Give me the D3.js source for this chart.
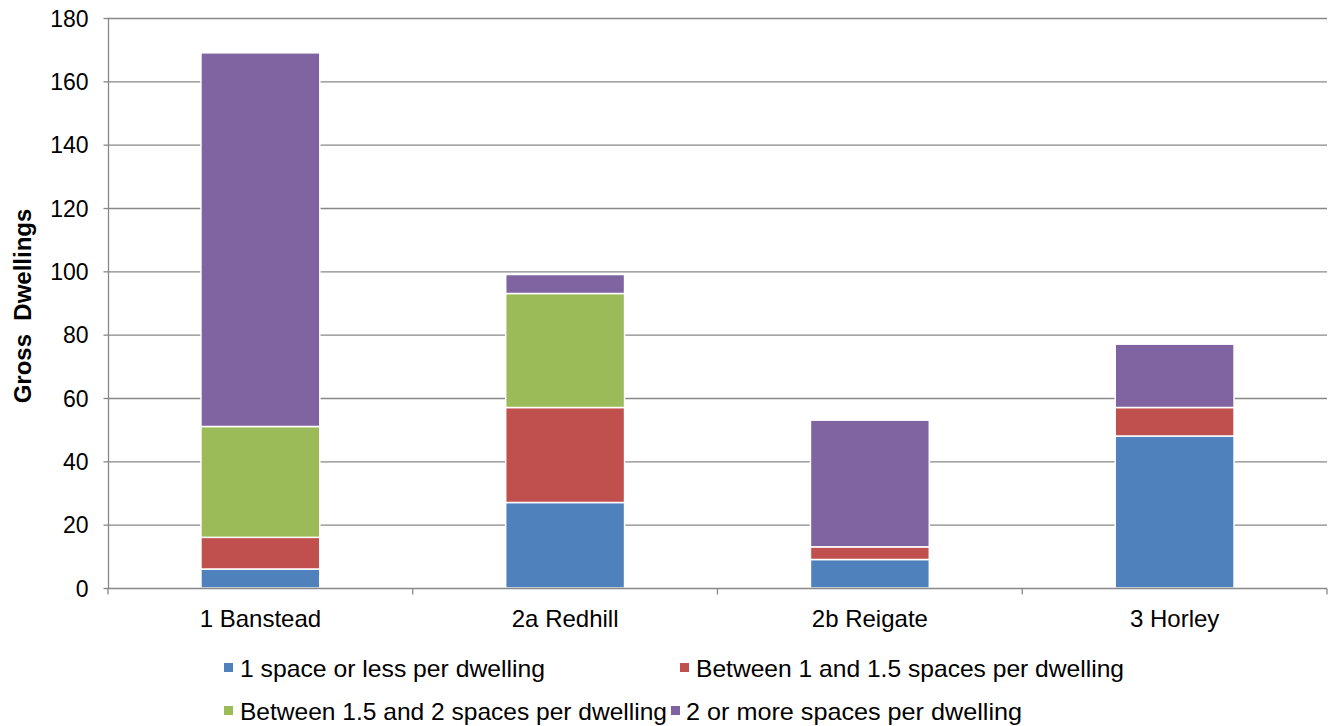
<!DOCTYPE html>
<html>
<head>
<meta charset="utf-8">
<script src="https://cdn.jsdelivr.net/npm/d3@7"></script>
<style>
  html, body { margin: 0; padding: 0; background: #fff; }
  svg { display: block; font-family: "Liberation Sans", Arial, sans-serif; }
</style>
</head>
<body>
<svg id="chart" width="1328" height="726"></svg>
<script>
// Gross dwellings by parking provision, per area
const categories = ["1 Banstead", "2a Redhill", "2b Reigate", "3 Horley"];
const seriesNames = [
  "1 space or less per dwelling",
  "Between 1 and 1.5 spaces per dwelling",
  "Between 1.5 and 2 spaces per dwelling",
  "2 or more spaces per dwelling"
];
const upToOne      = [6, 27, 9, 48];
const oneToOneHalf = [10, 30, 4, 9];
const oneHalfToTwo = [35, 36, 0, 0];
const twoOrMore    = [118, 6, 40, 20];
const yTicks = [0, 20, 40, 60, 80, 100, 120, 140, 160, 180];
const colors = ["#4F81BD", "#C0504D", "#9BBB59", "#8064A2"];

const seriesValues = [upToOne, oneToOneHalf, oneHalfToTwo, twoOrMore];
const keys = ["s0", "s1", "s2", "s3"];
const rows = categories.map((c, i) => {
  const r = { category: c };
  keys.forEach((k, j) => r[k] = seriesValues[j][i]);
  return r;
});

const svg = d3.select("#chart");
const margin = { left: 108, right: 1, top: 18, bottom: 138 };
const W = 1328, H = 726;
const plotW = W - margin.left - margin.right;
const plotH = H - margin.top - margin.bottom;

const x = d3.scaleBand().domain(categories).range([margin.left, margin.left + plotW])
  .paddingInner(0.61).paddingOuter(0.305);
const xOuter = d3.scaleBand().domain(categories).range([margin.left, margin.left + plotW]);
const y = d3.scaleLinear().domain([0, 180]).range([margin.top + plotH, margin.top]);

const gridColor = "#888";

// horizontal gridlines
svg.append("g").selectAll("line").data(yTicks.filter(t => t > 0)).join("line")
  .attr("x1", margin.left).attr("x2", margin.left + plotW)
  .attr("y1", d => y(d) + 0.5).attr("y2", d => y(d) + 0.5)
  .attr("stroke", gridColor).attr("stroke-width", 1.3);

// stacked bars
const stack = d3.stack().keys(keys)(rows);
svg.append("g").selectAll("g").data(stack).join("g")
  .attr("fill", (d, i) => colors[i])
  .selectAll("rect").data(d => d.filter(p => p[1] - p[0] > 0)).join("rect")
  .attr("x", d => x(d.data.category))
  .attr("width", x.bandwidth())
  .attr("y", d => y(d[1]))
  .attr("height", d => y(d[0]) - y(d[1]))
  .attr("stroke", "#fff").attr("stroke-width", 1.5);

// y axis
const yAxis = d3.axisLeft(y).tickValues(yTicks).tickSize(5).tickPadding(15);
const gy = svg.append("g").attr("transform", `translate(${margin.left + 0.5},0)`).call(yAxis);
gy.select(".domain").attr("stroke", gridColor).attr("stroke-width", 1.3).attr("d", `M0,${margin.top}V${margin.top + plotH}`);
gy.selectAll(".tick line").attr("stroke", gridColor).attr("stroke-width", 1.3).attr("x1", -5).attr("x2", 0);
gy.selectAll(".tick text").attr("font-size", 23).attr("fill", "#000").attr("dy", "0.36em");

// x axis with boundary ticks between categories
const xAxis = d3.axisBottom(xOuter).tickSize(0).tickPadding(21);
const gx = svg.append("g").attr("transform", `translate(0,${margin.top + plotH + 0.5})`).call(xAxis);
gx.select(".domain").attr("stroke", gridColor).attr("stroke-width", 1.3).attr("d", `M${margin.left},0H${margin.left + plotW}`);
gx.selectAll(".tick text").attr("font-size", 24).attr("fill", "#000");
const bounds = categories.map(c => xOuter(c)).concat([margin.left + plotW]);
gx.append("g").selectAll("line").data(bounds).join("line")
  .attr("x1", d => d).attr("x2", d => d).attr("y1", 0).attr("y2", 6)
  .attr("stroke", gridColor).attr("stroke-width", 1.3);

// axis title
svg.append("text")
  .attr("transform", `translate(31,${margin.top + plotH / 2 + 3}) rotate(-90)`)
  .attr("text-anchor", "middle")
  .attr("font-size", 24).attr("font-weight", "bold").attr("fill", "#000")
  .attr("xml:space", "preserve")
  .text("Gross  Dwellings");

// legend: two rows of two entries
const legendPos = [
  { x: 224, y: 668 }, { x: 680, y: 668 },
  { x: 224, y: 711 }, { x: 671, y: 711 }
];
const legendWidths = [305, 428, 427, 336];
const lg = svg.append("g").selectAll("g").data(seriesNames).join("g")
  .attr("transform", (d, i) => `translate(${legendPos[i].x},${legendPos[i].y})`);
lg.append("rect").attr("x", 0).attr("y", -5).attr("width", 9).attr("height", 9)
  .attr("fill", (d, i) => colors[i]);
lg.append("text").attr("x", (d, i) => i === 3 ? 15 : 16).attr("y", 0).attr("dy", "0.36em")
  .attr("font-size", 24).attr("fill", "#000")
  .attr("textLength", (d, i) => legendWidths[i])
  .attr("lengthAdjust", "spacingAndGlyphs")
  .text(d => d);
</script>
</body>
</html>
